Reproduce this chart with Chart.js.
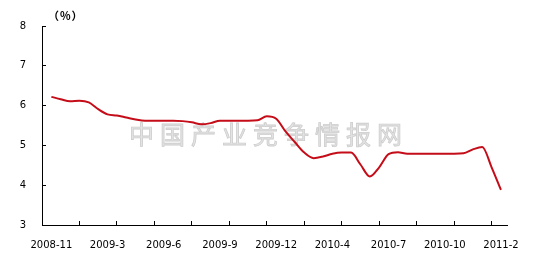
<!DOCTYPE html>
<html>
<head>
<meta charset="utf-8">
<script src="https://cdn.jsdelivr.net/npm/chart.js@4"></script>
<style>
  html, body { margin: 0; padding: 0; background: #fff; }
  #wrap { width: 537px; height: 269px; position: relative; }
</style>
</head>
<body>
<div id="wrap"><canvas id="rate-chart"></canvas></div>
<script>
// Rate (%) - half-month samples, Nov 2008 .. Feb 2011
const rateValues = [
  6.22, 6.16, 6.11, 6.12, 6.08, 5.91, 5.78, 5.75, 5.70, 5.65,
  5.62, 5.62, 5.62, 5.62, 5.61, 5.58, 5.53, 5.56, 5.62, 5.62,
  5.62, 5.62, 5.63, 5.73, 5.67, 5.35, 5.08, 4.82, 4.68, 4.72,
  4.79, 4.82, 4.82, 4.52, 4.22, 4.45, 4.78, 4.83, 4.79, 4.79,
  4.79, 4.79, 4.79, 4.79, 4.80, 4.90, 4.96, 4.45, 3.88
];
const xLabels = ['2008-11', '2009-3', '2009-6', '2009-9', '2009-12', '2010-4', '2010-7', '2010-10', '2011-2'];
const labelEvery = 6;          // one label every 6 samples
const yTicks = [3, 4, 5, 6, 7, 8];
const unitLabel = '（%）';
const watermark = '中国产业竞争情报网';

(function() {
  'use strict';

  const step = 0.5;
  const points = rateValues.map((v, i) => ({ x: step + i * step, y: v }));
  const labelPos = {};
  xLabels.forEach((l, k) => { labelPos[(step + k * labelEvery * step).toFixed(2)] = l; });
  const xMax = 24.84;

  const extras = {
    id: 'extras',
    beforeDatasetsDraw(chart) {
      const { ctx } = chart;
      ctx.save();
      ctx.font = '25px "Noto Sans CJK SC"';
      ctx.fillStyle = '#e4e4e4';
      ctx.strokeStyle = '#cdcdcd';
      ctx.lineWidth = 0.8;
      ctx.textBaseline = 'middle';
      let x = 129;
      for (const ch of watermark) {
        ctx.fillText(ch, x, 134);
        ctx.strokeText(ch, x, 134);
        x += 31;
      }
      ctx.restore();
    },
    afterDraw(chart) {
      const { ctx, chartArea } = chart;
      ctx.save();
      ctx.font = 'bold 11px "Noto Sans CJK SC"';
      ctx.fillStyle = '#000';
      ctx.textBaseline = 'middle';
      ctx.letterSpacing = '1px';
      ctx.fillText(unitLabel, chartArea.left + 6, 16);
      ctx.restore();
    }
  };

  function init() {
    const ctx = document.getElementById('rate-chart').getContext('2d');
    new Chart(ctx, {
      type: 'line',
      data: {
        datasets: [{
          data: points,
          borderColor: '#c40d18',
          borderWidth: 2,
          pointRadius: 0,
          fill: false,
          cubicInterpolationMode: 'monotone'
        }]
      },
      options: {
        responsive: true,
        maintainAspectRatio: false,
        animation: false,
        layout: { padding: { top: 23, right: 23, left: 0, bottom: 0 } },
        plugins: { legend: { display: false }, tooltip: { enabled: false } },
        scales: {
          x: {
            type: 'linear',
            min: 0,
            max: xMax,
            afterBuildTicks: scale => {
              const vals = new Set();
              for (let t = 0; t <= xMax; t += 2) vals.add(t);
              Object.keys(labelPos).forEach(k => vals.add(parseFloat(k)));
              scale.ticks = [...vals].sort((a, b) => a - b).map(v => ({ value: v }));
            },
            afterFit: scale => { scale.height = 44; },
            border: { color: '#000', width: 1 },
            grid: {
              drawOnChartArea: false,
              tickLength: -4,
              tickColor: c => (c.tick && c.tick.value % 2 === 0) ? '#000' : 'rgba(0,0,0,0)'
            },
            ticks: {
              autoSkip: false,
              maxRotation: 0,
              padding: 18,
              color: '#000',
              font: { family: 'DejaVu Sans', size: 10 },
              callback: v => labelPos[Number(v).toFixed(2)] || ''
            }
          },
          y: {
            min: 3,
            max: 8,
            afterBuildTicks: scale => { scale.ticks = yTicks.map(v => ({ value: v })); },
            afterFit: scale => { scale.width = 42; },
            border: { color: '#000', width: 1 },
            grid: { drawOnChartArea: false, tickLength: -4, tickColor: '#000' },
            ticks: {
              padding: 20,
              color: '#000',
              font: { family: 'DejaVu Sans', size: 10 }
            }
          }
        }
      },
      plugins: [extras]
    });
  }

  if (document.readyState === 'loading') {
    document.addEventListener('DOMContentLoaded', init);
  } else {
    init();
  }
})();
</script>
</body>
</html>
